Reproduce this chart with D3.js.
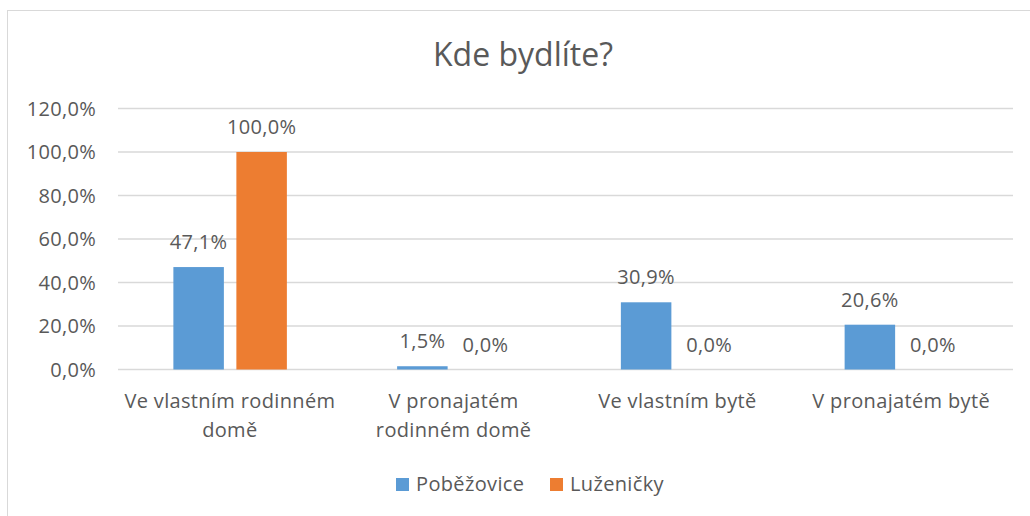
<!DOCTYPE html>
<html>
<head>
<meta charset="utf-8">
<script src="https://cdn.jsdelivr.net/npm/d3@7"></script>
<style>
  body { margin: 0; background: #fff; }
  text { font-family: "Open Sans", "Liberation Sans", sans-serif; fill: #595959; }
</style>
</head>
<body>
<svg id="chart" width="1030" height="516"></svg>
<script>
// data
var categories = ["Ve vlastním rodinném\ndomě", "V pronajatém\nrodinném domě", "Ve vlastním bytě", "V pronajatém bytě"]
var seriesNames = ["Poběžovice", "Luženičky"]
var pobezovice = [47.1, 1.5, 30.9, 20.6]
var luzenicky = [100.0, 0.0, 0.0, 0.0]
var yTicks = [0, 20, 40, 60, 80, 100, 120]
var colors = ["#5b9bd5", "#ed7d31"]

var svg = d3.select("#chart")
var margin = { left: 118, right: 1013, top: 108.5, bottom: 369.5 }
var fmt = v => v.toFixed(1).replace(".", ",") + "%"
var fs = 20

// outer border (right/bottom fall out of frame)
svg.append("rect").attr("x", 7.5).attr("y", 10.5).attr("width", 1040).attr("height", 530)
    .attr("fill", "none").attr("stroke", "#d9d9d9").attr("stroke-width", 1)

svg.append("text").attr("x", 523).attr("y", 66).attr("text-anchor", "middle")
    .attr("font-size", 32).text("Kde bydlíte?")

var yScale = d3.scaleLinear().domain([0, 120]).range([margin.bottom, margin.top])
var xScale = d3.scaleBand().domain(categories).range([margin.left, margin.right])

// gridlines
svg.selectAll(".grid").data(yTicks).join("line").attr("class", "grid")
    .attr("x1", margin.left).attr("x2", margin.right)
    .attr("y1", d => yScale(d)).attr("y2", d => yScale(d))
    .attr("stroke", "#d9d9d9").attr("stroke-width", 1.3)

var yAxis = d3.axisLeft(yScale).tickValues(yTicks).tickFormat(fmt).tickSize(0).tickPadding(0)
var yg = svg.append("g").attr("transform", "translate(96,0)").call(yAxis)
yg.select(".domain").remove()
yg.selectAll("text").attr("font-size", fs).attr("fill", "#595959").attr("dy", "0.33em")
    .style("font-family", '"Open Sans", sans-serif').style("letter-spacing", "0.3px")

var barW = 50.5
var offsets = [-56.5, 6.5]
var rows = []
categories.forEach((c, i) => {
    rows.push({ cat: c, s: 0, v: pobezovice[i] })
    rows.push({ cat: c, s: 1, v: luzenicky[i] })
})

svg.selectAll(".bar").data(rows).join("rect").attr("class", "bar")
    .attr("x", d => xScale(d.cat) + xScale.bandwidth() / 2 + offsets[d.s])
    .attr("width", barW)
    .attr("y", d => yScale(d.v))
    .attr("height", d => yScale(0) - yScale(d.v))
    .attr("fill", d => colors[d.s])

svg.selectAll(".lbl").data(rows).join("text").attr("class", "lbl")
    .attr("x", d => xScale(d.cat) + xScale.bandwidth() / 2 + offsets[d.s] + barW / 2)
    .attr("y", d => yScale(d.v) - 18)
    .attr("text-anchor", "middle").attr("font-size", fs).style("letter-spacing", "0.3px")
    .text(d => fmt(d.v))

// category labels
var cl = svg.selectAll(".cat").data(categories).join("text").attr("class", "cat")
    .attr("text-anchor", "middle").attr("font-size", fs).style("letter-spacing", "0.35px")
cl.each(function (d) {
    var lines = d.split("\n")
    var cx = xScale(d) + xScale.bandwidth() / 2
    d3.select(this).selectAll("tspan").data(lines).join("tspan")
        .attr("x", cx).attr("y", (l, i) => 408 + i * 29).text(l => l)
})

// legend
var legX = [396, 550]
seriesNames.forEach((n, i) => {
    svg.append("rect").attr("x", legX[i]).attr("y", 478).attr("width", 13).attr("height", 13).attr("fill", colors[i])
    svg.append("text").attr("x", legX[i] + 20).attr("y", 491).attr("font-size", fs)
        .style("letter-spacing", "0.35px").text(n)
})
</script>
</body>
</html>
